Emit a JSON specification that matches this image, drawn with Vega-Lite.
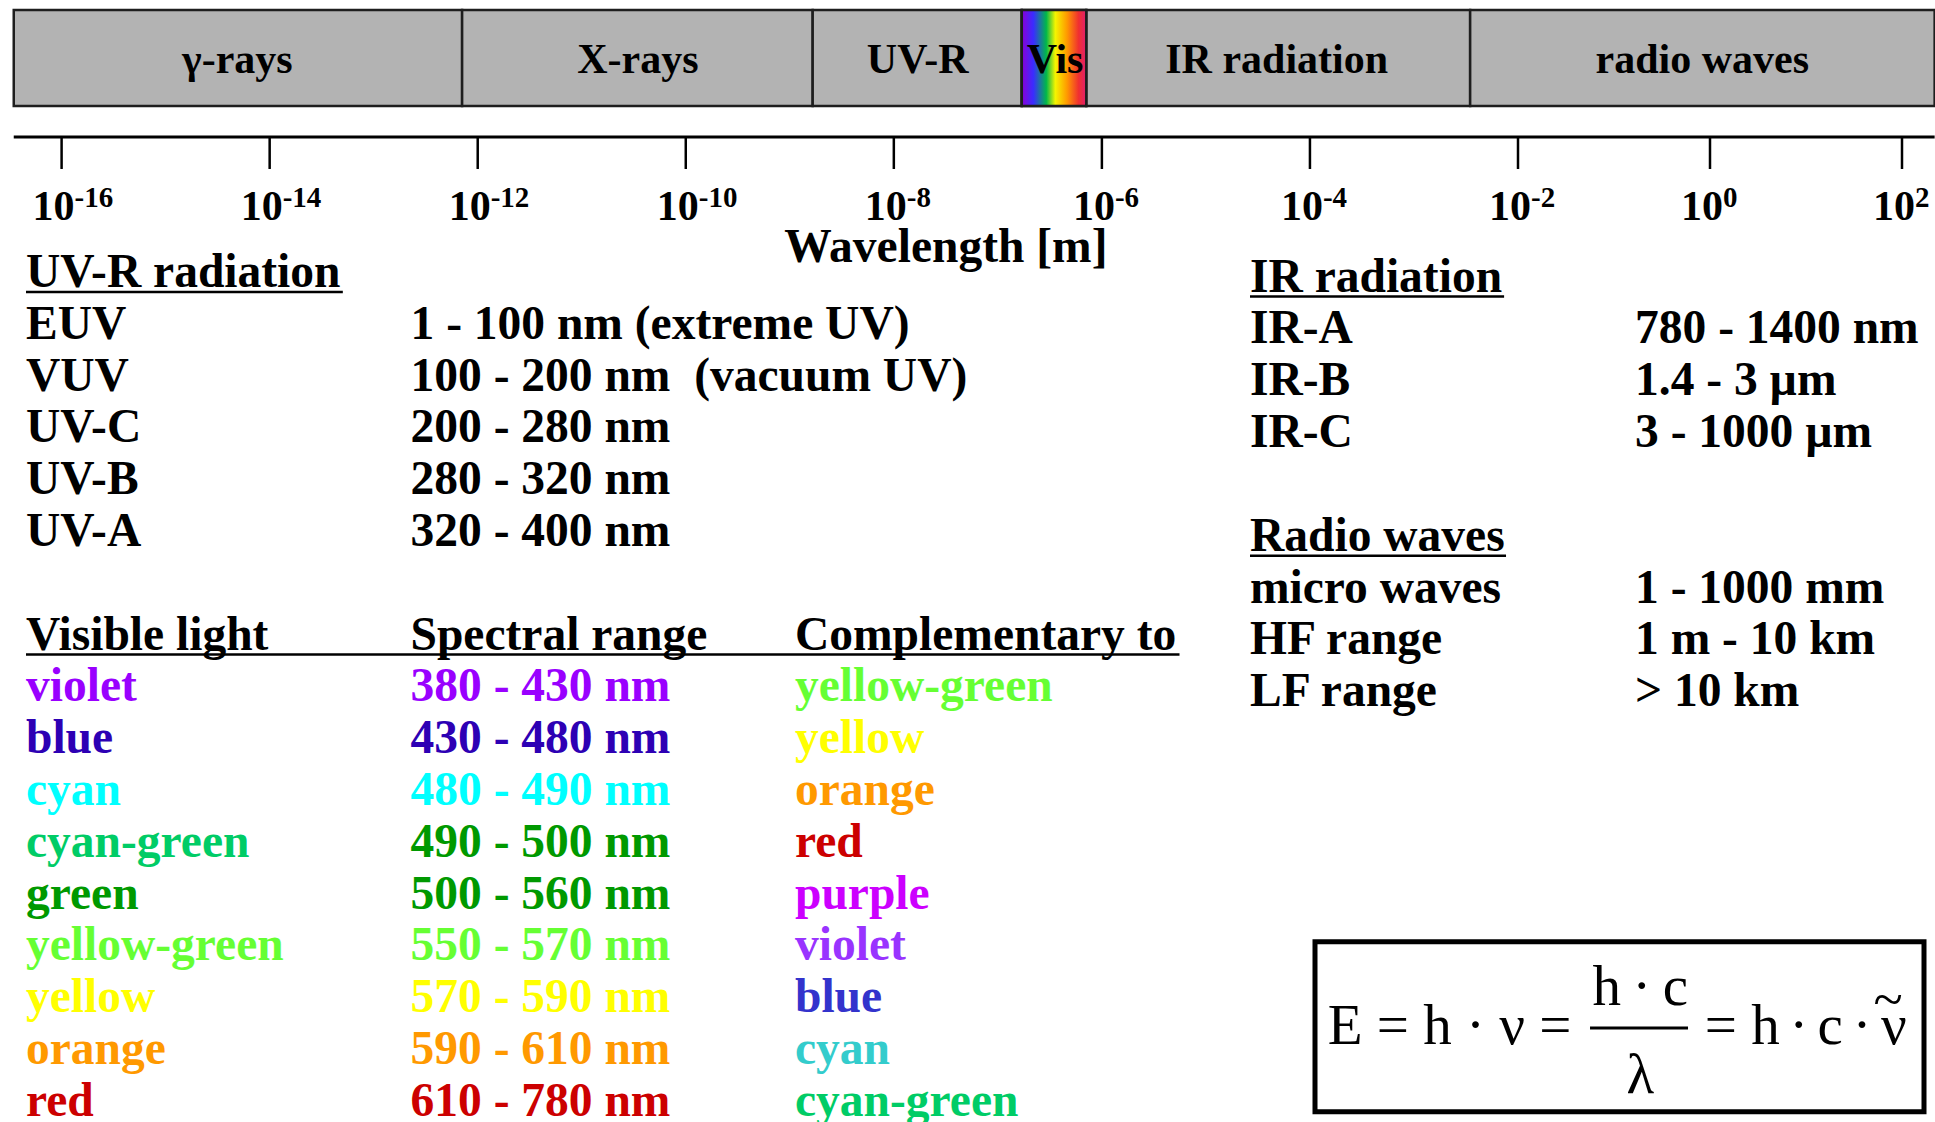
{
  "$schema": "https://vega.github.io/schema/vega-lite/v6.json",
  "width": 1935,
  "height": 1122,
  "padding": 0,
  "autosize": {"type": "none"},
  "background": "#ffffff",
  "config": {
    "view": {"stroke": null},
    "text": {"font": "Liberation Serif", "fontWeight": "bold", "baseline": "alphabetic"}
  },
  "datasets": {
    "bands": [
      {"band": "γ-rays", "lo": -16.46, "hi": -12.15, "mid": -14.31},
      {"band": "X-rays", "lo": -12.15, "hi": -8.78, "mid": -10.46},
      {"band": "UV-R", "lo": -8.78, "hi": -6.77, "mid": -7.77},
      {"band": "Vis", "lo": -6.77, "hi": -6.15, "mid": -6.45},
      {"band": "IR radiation", "lo": -6.15, "hi": -2.46, "mid": -4.32},
      {"band": "radio waves", "lo": -2.46, "hi": 2.34, "mid": -0.08}
    ],
    "axisinfo": [
      {"title": "Wavelength [m]", "from": -16.46, "to": 2.34, "center": -7.5}
    ],
    "ticks": [
      {"e": -16, "base": "10", "exp": "-16"},
      {"e": -14, "base": "10", "exp": "-14"},
      {"e": -12, "base": "10", "exp": "-12"},
      {"e": -10, "base": "10", "exp": "-10"},
      {"e": -8, "base": "10", "exp": "-8"},
      {"e": -6, "base": "10", "exp": "-6"},
      {"e": -4, "base": "10", "exp": "-4"},
      {"e": -2, "base": "10", "exp": "-2"},
      {"e": 0, "base": "10", "exp": "0"},
      {"e": 2, "base": "10", "exp": "2"}
    ],
    "cells": [
      {"panel": "L", "line": 0, "col": 0, "text": "UV-R radiation", "hue": "black"},
      {"panel": "L", "line": 1, "col": 0, "text": "EUV", "hue": "black"},
      {"panel": "L", "line": 1, "col": 1, "text": "1 - 100 nm (extreme UV)", "hue": "black"},
      {"panel": "L", "line": 2, "col": 0, "text": "VUV", "hue": "black"},
      {"panel": "L", "line": 2, "col": 1, "text": "100 - 200 nm\u00a0 (vacuum UV)", "hue": "black"},
      {"panel": "L", "line": 3, "col": 0, "text": "UV-C", "hue": "black"},
      {"panel": "L", "line": 3, "col": 1, "text": "200 - 280 nm", "hue": "black"},
      {"panel": "L", "line": 4, "col": 0, "text": "UV-B", "hue": "black"},
      {"panel": "L", "line": 4, "col": 1, "text": "280 - 320 nm", "hue": "black"},
      {"panel": "L", "line": 5, "col": 0, "text": "UV-A", "hue": "black"},
      {"panel": "L", "line": 5, "col": 1, "text": "320 - 400 nm", "hue": "black"},
      {"panel": "L", "line": 7, "col": 0, "text": "Visible light", "hue": "black"},
      {"panel": "L", "line": 7, "col": 1, "text": "Spectral range", "hue": "black"},
      {"panel": "L", "line": 7, "col": 2, "text": "Complementary to", "hue": "black"},
      {"panel": "L", "line": 8, "col": 0, "text": "violet", "hue": "violet"},
      {"panel": "L", "line": 8, "col": 1, "text": "380 - 430 nm", "hue": "violet"},
      {"panel": "L", "line": 8, "col": 2, "text": "yellow-green", "hue": "yellowgreen"},
      {"panel": "L", "line": 9, "col": 0, "text": "blue", "hue": "indigo"},
      {"panel": "L", "line": 9, "col": 1, "text": "430 - 480 nm", "hue": "indigo"},
      {"panel": "L", "line": 9, "col": 2, "text": "yellow", "hue": "yellow"},
      {"panel": "L", "line": 10, "col": 0, "text": "cyan", "hue": "cyan"},
      {"panel": "L", "line": 10, "col": 1, "text": "480 - 490 nm", "hue": "cyan"},
      {"panel": "L", "line": 10, "col": 2, "text": "orange", "hue": "orange"},
      {"panel": "L", "line": 11, "col": 0, "text": "cyan-green", "hue": "cyangreen"},
      {"panel": "L", "line": 11, "col": 1, "text": "490 - 500 nm", "hue": "green"},
      {"panel": "L", "line": 11, "col": 2, "text": "red", "hue": "red"},
      {"panel": "L", "line": 12, "col": 0, "text": "green", "hue": "green"},
      {"panel": "L", "line": 12, "col": 1, "text": "500 - 560 nm", "hue": "green"},
      {"panel": "L", "line": 12, "col": 2, "text": "purple", "hue": "purple"},
      {"panel": "L", "line": 13, "col": 0, "text": "yellow-green", "hue": "yellowgreen"},
      {"panel": "L", "line": 13, "col": 1, "text": "550 - 570 nm", "hue": "yellowgreen"},
      {"panel": "L", "line": 13, "col": 2, "text": "violet", "hue": "lilac"},
      {"panel": "L", "line": 14, "col": 0, "text": "yellow", "hue": "yellow"},
      {"panel": "L", "line": 14, "col": 1, "text": "570 - 590 nm", "hue": "yellow"},
      {"panel": "L", "line": 14, "col": 2, "text": "blue", "hue": "blue"},
      {"panel": "L", "line": 15, "col": 0, "text": "orange", "hue": "orange"},
      {"panel": "L", "line": 15, "col": 1, "text": "590 - 610 nm", "hue": "orange"},
      {"panel": "L", "line": 15, "col": 2, "text": "cyan", "hue": "teal"},
      {"panel": "L", "line": 16, "col": 0, "text": "red", "hue": "red"},
      {"panel": "L", "line": 16, "col": 1, "text": "610 - 780 nm", "hue": "red"},
      {"panel": "L", "line": 16, "col": 2, "text": "cyan-green", "hue": "cyangreen"},
      {"panel": "R", "line": 0, "col": 0, "text": "IR radiation", "hue": "black"},
      {"panel": "R", "line": 1, "col": 0, "text": "IR-A", "hue": "black"},
      {"panel": "R", "line": 1, "col": 1, "text": "780 - 1400 nm", "hue": "black"},
      {"panel": "R", "line": 2, "col": 0, "text": "IR-B", "hue": "black"},
      {"panel": "R", "line": 2, "col": 1, "text": "1.4 - 3 µm", "hue": "black"},
      {"panel": "R", "line": 3, "col": 0, "text": "IR-C", "hue": "black"},
      {"panel": "R", "line": 3, "col": 1, "text": "3 - 1000 µm", "hue": "black"},
      {"panel": "R", "line": 5, "col": 0, "text": "Radio waves", "hue": "black"},
      {"panel": "R", "line": 6, "col": 0, "text": "micro waves", "hue": "black"},
      {"panel": "R", "line": 6, "col": 1, "text": "1 - 1000 mm", "hue": "black"},
      {"panel": "R", "line": 7, "col": 0, "text": "HF range", "hue": "black"},
      {"panel": "R", "line": 7, "col": 1, "text": "1 m - 10 km", "hue": "black"},
      {"panel": "R", "line": 8, "col": 0, "text": "LF range", "hue": "black"},
      {"panel": "R", "line": 8, "col": 1, "text": "> 10 km", "hue": "black"}
    ],
    "underlines": [
      {"panel": "L", "line": 0, "from": 0, "to": 0.824},
      {"panel": "L", "line": 7, "from": 0, "to": 3.0},
      {"panel": "R", "line": 0, "from": 0, "to": 0.66},
      {"panel": "R", "line": 5, "from": 0, "to": 0.665}
    ],
    "formula": [
      {"part": "lhs", "term": "E = h · ν ="},
      {"part": "num", "term": "h\u2009·\u2009c"},
      {"part": "den", "term": "λ"},
      {"part": "rhs", "term": "= h\u2006·\u2006c\u2006·\u2006ν"},
      {"part": "tilde", "term": "~"}
    ]
  },
  "resolve": {"scale": {"x": "independent", "y": "independent", "color": "independent"}},
  "layer": [
    {
      "data": {"name": "bands"},
      "mark": {"type": "rect", "fill": "#b3b3b3", "stroke": "#1e1e1e", "strokeWidth": 2.5},
      "encoding": {
        "x": {"field": "lo", "type": "quantitative", "axis": null, "scale": {"domain": [-16, -2, 0, 2], "range": [61.6, 1518, 1710, 1902], "nice": false, "zero": false}},
        "x2": {"field": "hi"},
        "y": {"datum": 0, "type": "quantitative", "axis": null, "scale": {"domain": [0, 1], "range": [10, 106], "nice": false, "zero": false}},
        "y2": {"datum": 1}
      }
    },
    {
      "data": {"name": "bands"},
      "transform": [{"filter": "datum.band === 'Vis'"}],
      "mark": {
        "type": "rect",
        "stroke": "#1e1e1e",
        "strokeWidth": 2.5,
        "fill": {
          "gradient": "linear", "x1": 0, "y1": 0, "x2": 1, "y2": 0,
          "stops": [
            {"offset": 0, "color": "#8a00d8"},
            {"offset": 0.18, "color": "#3a2cff"},
            {"offset": 0.38, "color": "#00b84a"},
            {"offset": 0.52, "color": "#f5f500"},
            {"offset": 0.7, "color": "#ff9a00"},
            {"offset": 0.88, "color": "#f03030"},
            {"offset": 1, "color": "#e01e6e"}
          ]
        }
      },
      "encoding": {
        "x": {"field": "lo", "type": "quantitative", "axis": null, "scale": {"domain": [-16, -2, 0, 2], "range": [61.6, 1518, 1710, 1902], "nice": false, "zero": false}},
        "x2": {"field": "hi"},
        "y": {"datum": 0, "type": "quantitative", "axis": null, "scale": {"domain": [0, 1], "range": [10, 106], "nice": false, "zero": false}},
        "y2": {"datum": 1}
      }
    },
    {
      "data": {"name": "bands"},
      "mark": {"type": "text", "fontSize": 42, "align": "center", "color": "#000000"},
      "encoding": {
        "x": {"field": "mid", "type": "quantitative", "axis": null, "scale": {"domain": [-16, -2, 0, 2], "range": [61.6, 1518, 1710, 1902], "nice": false, "zero": false}},
        "y": {"datum": 0.656, "type": "quantitative", "axis": null, "scale": {"domain": [0, 1], "range": [10, 106], "nice": false, "zero": false}},
        "text": {"field": "band"}
      }
    },
    {
      "data": {"name": "axisinfo"},
      "mark": {"type": "rule", "color": "#000000", "strokeWidth": 3},
      "encoding": {
        "x": {"field": "from", "type": "quantitative", "axis": null, "scale": {"domain": [-16, -2, 0, 2], "range": [61.6, 1518, 1710, 1902], "nice": false, "zero": false}},
        "x2": {"field": "to"},
        "y": {"datum": 1.323, "type": "quantitative", "axis": null, "scale": {"domain": [0, 1], "range": [10, 106], "nice": false, "zero": false}}
      }
    },
    {
      "data": {"name": "ticks"},
      "mark": {"type": "rule", "color": "#000000", "strokeWidth": 2.5},
      "encoding": {
        "x": {"field": "e", "type": "quantitative", "axis": null, "scale": {"domain": [-16, -2, 0, 2], "range": [61.6, 1518, 1710, 1902], "nice": false, "zero": false}},
        "y": {"datum": 1.323, "type": "quantitative", "axis": null, "scale": {"domain": [0, 1], "range": [10, 106], "nice": false, "zero": false}},
        "y2": {"datum": 1.656}
      }
    },
    {
      "data": {"name": "ticks"},
      "mark": {"type": "text", "fontSize": 42, "align": "right", "dx": 13, "color": "#000000"},
      "encoding": {
        "x": {"field": "e", "type": "quantitative", "axis": null, "scale": {"domain": [-16, -2, 0, 2], "range": [61.6, 1518, 1710, 1902], "nice": false, "zero": false}},
        "y": {"datum": 2.1875, "type": "quantitative", "axis": null, "scale": {"domain": [0, 1], "range": [10, 106], "nice": false, "zero": false}},
        "yOffset": {"condition": [{"test": "datum.e >= -10 && datum.e <= -6", "value": -4}, {"test": "datum.e == 2", "value": -7}], "value": 0},
        "text": {"field": "base"}
      }
    },
    {
      "data": {"name": "ticks"},
      "mark": {"type": "text", "fontSize": 29, "align": "left", "dx": 13, "color": "#000000"},
      "encoding": {
        "x": {"field": "e", "type": "quantitative", "axis": null, "scale": {"domain": [-16, -2, 0, 2], "range": [61.6, 1518, 1710, 1902], "nice": false, "zero": false}},
        "y": {"datum": 2.052, "type": "quantitative", "axis": null, "scale": {"domain": [0, 1], "range": [10, 106], "nice": false, "zero": false}},
        "yOffset": {"condition": [{"test": "datum.e >= -10 && datum.e <= -6", "value": -4}, {"test": "datum.e == 2", "value": -7}], "value": 0},
        "text": {"field": "exp"}
      }
    },
    {
      "data": {"name": "axisinfo"},
      "mark": {"type": "text", "fontSize": 47.5, "align": "center", "color": "#000000"},
      "encoding": {
        "x": {"field": "center", "type": "quantitative", "axis": null, "scale": {"domain": [-16, -2, 0, 2], "range": [61.6, 1518, 1710, 1902], "nice": false, "zero": false}},
        "y": {"datum": 2.625, "type": "quantitative", "axis": null, "scale": {"domain": [0, 1], "range": [10, 106], "nice": false, "zero": false}},
        "text": {"field": "title"}
      }
    },
    {
      "data": {"name": "cells"},
      "transform": [{"filter": "datum.panel === 'L'"}],
      "mark": {"type": "text", "fontSize": 47.5, "align": "left"},
      "encoding": {
        "x": {"field": "col", "type": "quantitative", "axis": null, "scale": {"domain": [0, 2], "range": [26, 795], "nice": false, "zero": false}},
        "y": {"field": "line", "type": "quantitative", "axis": null, "scale": {"domain": [0, 16], "range": [287, 1115.8], "nice": false, "zero": false}},
        "color": {
          "field": "hue", "type": "nominal", "legend": null,
          "scale": {
            "domain": ["black", "violet", "indigo", "cyan", "cyangreen", "green", "yellowgreen", "yellow", "orange", "red", "purple", "lilac", "blue", "teal"],
            "range": ["#000000", "#9900ff", "#2d00b4", "#00ffff", "#00cc66", "#009900", "#66ff33", "#ffff00", "#ff9900", "#cc0000", "#cc00ff", "#9933ff", "#3333cc", "#33cccc"]
          }
        },
        "text": {"field": "text"}
      }
    },
    {
      "data": {"name": "underlines"},
      "transform": [{"filter": "datum.panel === 'L'"}],
      "mark": {"type": "rule", "color": "#000000", "strokeWidth": 2.5},
      "encoding": {
        "x": {"field": "from", "type": "quantitative", "axis": null, "scale": {"domain": [0, 2], "range": [26, 795], "nice": false, "zero": false}},
        "x2": {"field": "to"},
        "y": {"field": "line", "type": "quantitative", "axis": null, "scale": {"domain": [0, 16], "range": [287, 1115.8], "nice": false, "zero": false}},
        "yOffset": {"value": 5}
      }
    },
    {
      "data": {"name": "cells"},
      "transform": [{"filter": "datum.panel === 'R'"}],
      "mark": {"type": "text", "fontSize": 47.5, "align": "left", "color": "#000000"},
      "encoding": {
        "x": {"field": "col", "type": "quantitative", "axis": null, "scale": {"domain": [0, 1], "range": [1250, 1635], "nice": false, "zero": false}},
        "y": {"field": "line", "type": "quantitative", "axis": null, "scale": {"domain": [0, 8], "range": [291.5, 706.3], "nice": false, "zero": false}},
        "text": {"field": "text"}
      }
    },
    {
      "data": {"name": "underlines"},
      "transform": [{"filter": "datum.panel === 'R'"}],
      "mark": {"type": "rule", "color": "#000000", "strokeWidth": 2.5},
      "encoding": {
        "x": {"field": "from", "type": "quantitative", "axis": null, "scale": {"domain": [0, 1], "range": [1250, 1635], "nice": false, "zero": false}},
        "x2": {"field": "to"},
        "y": {"field": "line", "type": "quantitative", "axis": null, "scale": {"domain": [0, 8], "range": [291.5, 706.3], "nice": false, "zero": false}},
        "yOffset": {"value": 5}
      }
    },
    {
      "data": {"name": "formula"},
      "transform": [{"filter": "datum.part === 'lhs'"}],
      "mark": {"type": "rect", "fill": "#ffffff", "stroke": "#000000", "strokeWidth": 5},
      "encoding": {
        "x": {"datum": 0, "type": "quantitative", "axis": null, "scale": {"domain": [0, 1], "range": [1315, 1924], "nice": false, "zero": false}},
        "x2": {"datum": 1},
        "y": {"datum": 0, "type": "quantitative", "axis": null, "scale": {"domain": [0, 1], "range": [941.7, 1111.7], "nice": false, "zero": false}},
        "y2": {"datum": 1}
      }
    },
    {
      "data": {"name": "formula"},
      "transform": [{"filter": "datum.part === 'num'"}],
      "mark": {"type": "rule", "color": "#000000", "strokeWidth": 3},
      "encoding": {
        "x": {"datum": 0.4516, "type": "quantitative", "axis": null, "scale": {"domain": [0, 1], "range": [1315, 1924], "nice": false, "zero": false}},
        "x2": {"datum": 0.6125},
        "y": {"datum": 0.5076, "type": "quantitative", "axis": null, "scale": {"domain": [0, 1], "range": [941.7, 1111.7], "nice": false, "zero": false}}
      }
    },
    {
      "data": {"name": "formula"},
      "transform": [{"filter": "datum.part === 'lhs'"}],
      "mark": {"type": "text", "fontSize": 57, "fontWeight": "normal", "align": "left", "color": "#000000"},
      "encoding": {
        "x": {"datum": 0.021, "type": "quantitative", "axis": null, "scale": {"domain": [0, 1], "range": [1315, 1924], "nice": false, "zero": false}},
        "y": {"datum": 0.602, "type": "quantitative", "axis": null, "scale": {"domain": [0, 1], "range": [941.7, 1111.7], "nice": false, "zero": false}},
        "text": {"field": "term"}
      }
    },
    {
      "data": {"name": "formula"},
      "transform": [{"filter": "datum.part === 'num'"}],
      "mark": {"type": "text", "fontSize": 57, "fontWeight": "normal", "align": "center", "color": "#000000"},
      "encoding": {
        "x": {"datum": 0.534, "type": "quantitative", "axis": null, "scale": {"domain": [0, 1], "range": [1315, 1924], "nice": false, "zero": false}},
        "y": {"datum": 0.372, "type": "quantitative", "axis": null, "scale": {"domain": [0, 1], "range": [941.7, 1111.7], "nice": false, "zero": false}},
        "text": {"field": "term"}
      }
    },
    {
      "data": {"name": "formula"},
      "transform": [{"filter": "datum.part === 'den'"}],
      "mark": {"type": "text", "fontSize": 57, "fontWeight": "normal", "align": "center", "color": "#000000"},
      "encoding": {
        "x": {"datum": 0.534, "type": "quantitative", "axis": null, "scale": {"domain": [0, 1], "range": [1315, 1924], "nice": false, "zero": false}},
        "y": {"datum": 0.89, "type": "quantitative", "axis": null, "scale": {"domain": [0, 1], "range": [941.7, 1111.7], "nice": false, "zero": false}},
        "text": {"field": "term"}
      }
    },
    {
      "data": {"name": "formula"},
      "transform": [{"filter": "datum.part === 'rhs'"}],
      "mark": {"type": "text", "fontSize": 57, "fontWeight": "normal", "align": "left", "color": "#000000"},
      "encoding": {
        "x": {"datum": 0.64, "type": "quantitative", "axis": null, "scale": {"domain": [0, 1], "range": [1315, 1924], "nice": false, "zero": false}},
        "y": {"datum": 0.602, "type": "quantitative", "axis": null, "scale": {"domain": [0, 1], "range": [941.7, 1111.7], "nice": false, "zero": false}},
        "text": {"field": "term"}
      }
    },
    {
      "data": {"name": "formula"},
      "transform": [{"filter": "datum.part === 'tilde'"}],
      "mark": {"type": "text", "fontSize": 54, "fontWeight": "normal", "align": "center", "color": "#000000"},
      "encoding": {
        "x": {"datum": 0.941, "type": "quantitative", "axis": null, "scale": {"domain": [0, 1], "range": [1315, 1924], "nice": false, "zero": false}},
        "y": {"datum": 0.45, "type": "quantitative", "axis": null, "scale": {"domain": [0, 1], "range": [941.7, 1111.7], "nice": false, "zero": false}},
        "text": {"field": "term"}
      }
    }
  ]
}
